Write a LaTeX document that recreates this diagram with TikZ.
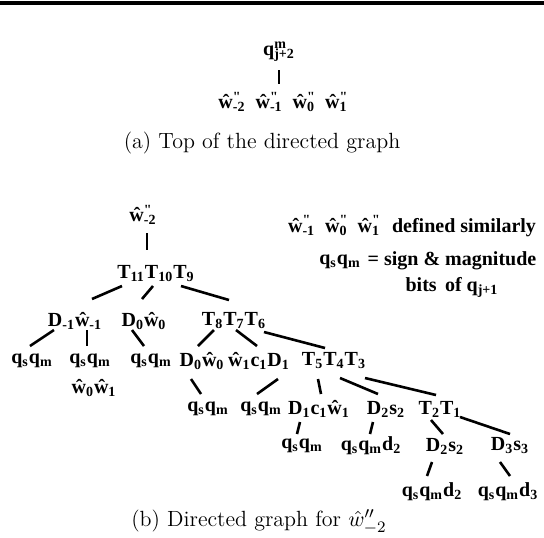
\documentclass[tikz,border=0pt]{standalone}
\usepackage{fontspec}
\newfontfamily\treefont{Liberation Serif}
\newcommand{\supsub}[2]{\rlap{\textsuperscript{#1}}\textsubscript{#2}}
\newcommand{\wh}[1]{\^{w}\textsubscript{#1}}
\newcommand{\wpp}[1]{\^{w}\supsub{"}{#1}}
\newcommand{\qsqm}{q\textsubscript{s}q\textsubscript{m}}
\begin{document}
\begin{tikzpicture}[
  x=0.5pt, y=-0.5pt,
  lbl/.style={font=\fontsize{10}{13}\selectfont\treefont\bfseries, inner sep=0.5pt},
  captext/.style={font=\fontsize{11}{13}\selectfont, inner sep=0pt},
  edge/.style={line width=1.3pt}
]
\useasboundingbox (0,0) rectangle (544,537);
\draw[line width=1.8pt] (0,3) -- (544,3);
% (a) top of the graph
\node[lbl] (qtop) at (279,52) {q\supsub{m}{j+2}};
\node[lbl] (wtop) at (283,102) {\wpp{-2}\hspace{5pt}\wpp{-1}\hspace{5pt}\wpp{0}\hspace{5pt}\wpp{1}};
\node[captext] (capa) at (262,143) {(a) Top of the directed graph};
\draw[edge] ([shift={(0,18)}]qtop.center) -- ([shift={(-4,-18)}]wtop.center);
% (b) legend
\node[lbl] (legw) at (412,226) {\wpp{-1}\hspace{5pt}\wpp{0}\hspace{5pt}\wpp{1}\hspace{6pt}defined similarly};
\node[lbl] (legq) at (340,262) {\qsqm};
\node[lbl, align=center] (legtxt) at (452,275) {= sign \& magnitude\\bits\, of q\textsubscript{j+1}};
% (b) tree
\node[lbl] (w2) at (143,215) {\wpp{-2}};
\node[lbl] (t11) at (156,274) {T\textsubscript{11}T\textsubscript{10}T\textsubscript{9}};
\node[lbl] (dm1) at (75,321) {D\textsubscript{-1}\wh{-1}};
\node[lbl] (d0) at (144,321) {D\textsubscript{0}\wh{0}};
\node[lbl] (t876) at (234,321) {T\textsubscript{8}T\textsubscript{7}T\textsubscript{6}};
\node[lbl] (qa) at (32,361) {\qsqm};
\node[lbl] (qb) at (90,361) {\qsqm};
\node[lbl] (wb) at (94,388) {\wh{0}\wh{1}};
\node[lbl] (qc) at (151,361) {\qsqm};
\node[lbl] (d0b) at (202,361) {D\textsubscript{0}\wh{0}};
\node[lbl] (w1c1) at (259,361) {\wh{1}c\textsubscript{1}D\textsubscript{1}};
\node[lbl] (t543) at (334,361) {T\textsubscript{5}T\textsubscript{4}T\textsubscript{3}};
\node[lbl] (qd) at (208,409) {\qsqm};
\node[lbl] (qe) at (261,409) {\qsqm};
\node[lbl] (d1c1) at (319,409) {D\textsubscript{1}c\textsubscript{1}\wh{1}};
\node[lbl] (d2s2) at (386,409) {D\textsubscript{2}s\textsubscript{2}};
\node[lbl] (t21) at (440,409) {T\textsubscript{2}T\textsubscript{1}};
\node[lbl] (qf) at (302,446) {\qsqm};
\node[lbl] (qgd2) at (371,446) {\qsqm d\textsubscript{2}};
\node[lbl] (d2s2b) at (445,446) {D\textsubscript{2}s\textsubscript{2}};
\node[lbl] (d3s3) at (510,446) {D\textsubscript{3}s\textsubscript{3}};
\node[lbl] (qhd2) at (432,492) {\qsqm d\textsubscript{2}};
\node[lbl] (qid3) at (508,492) {\qsqm d\textsubscript{3}};
\node[captext] (capb) at (259,522) {(b) Directed graph for $\hat{w}''_{-2}$};
\draw[edge] ([shift={(4,18)}]w2.center) -- ([shift={(-9,-24)}]t11.center);
\draw[edge] ([shift={(-34,12)}]t11.center) -- ([shift={(17,-22)}]dm1.center);
\draw[edge] ([shift={(-3,12)}]t11.center) -- ([shift={(-2,-22)}]d0.center);
\draw[edge] ([shift={(25,12)}]t11.center) -- ([shift={(-5,-21)}]t876.center);
\draw[edge] ([shift={(-21,9)}]dm1.center) -- ([shift={(-2,-15)}]qa.center);
\draw[edge] ([shift={(12,9)}]dm1.center) -- ([shift={(-3,-15)}]qb.center);
\draw[edge] ([shift={(-12,9)}]d0.center) -- ([shift={(-7,-15)}]qc.center);
\draw[edge] ([shift={(-20,9)}]t876.center) -- ([shift={(-4,-15)}]d0b.center);
\draw[edge] ([shift={(2,9)}]t876.center) -- ([shift={(-2,-15)}]w1c1.center);
\draw[edge] ([shift={(30,11)}]t876.center) -- ([shift={(-9,-13)}]t543.center);
\draw[edge] ([shift={(-11,18)}]d0b.center) -- ([shift={(-7,-15)}]qd.center);
\draw[edge] ([shift={(19,18)}]w1c1.center) -- ([shift={(-4,-15)}]qe.center);
\draw[edge] ([shift={(-16,18)}]t543.center) -- ([shift={(2,-15)}]d1c1.center);
\draw[edge] ([shift={(6,17)}]t543.center) -- ([shift={(-8,-15)}]d2s2.center);
\draw[edge] ([shift={(31,17)}]t543.center) -- ([shift={(-4,-14)}]t21.center);
\draw[edge] ([shift={(-19,13)}]d1c1.center) -- ([shift={(-5,-12)}]qf.center);
\draw[edge] ([shift={(-13,13)}]d2s2.center) -- ([shift={(-1,-12)}]qgd2.center);
\draw[edge] ([shift={(-9,11)}]t21.center) -- ([shift={(-2,-12)}]d2s2b.center);
\draw[edge] ([shift={(20,8)}]t21.center) -- ([shift={(0,-12)}]d3s3.center);
\draw[edge] ([shift={(-13,16)}]d2s2b.center) -- ([shift={(-5,-16)}]qhd2.center);
\draw[edge] ([shift={(-10,16)}]d3s3.center) -- ([shift={(2,-16)}]qid3.center);
\end{tikzpicture}
\end{document}
